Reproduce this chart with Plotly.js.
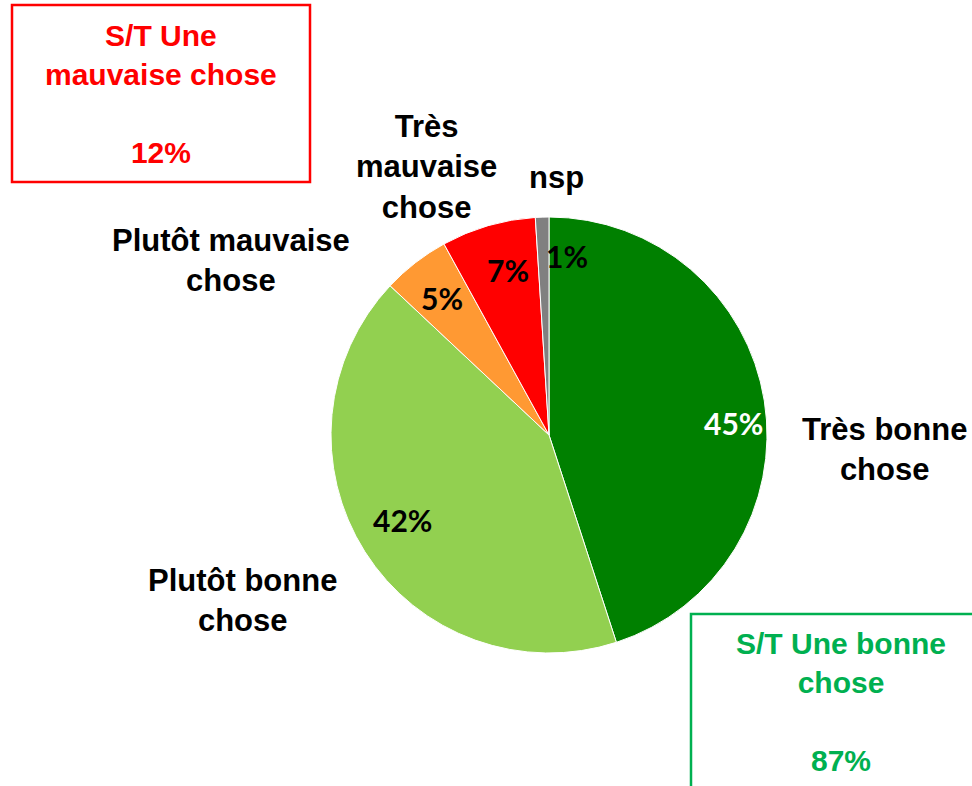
<!DOCTYPE html>
<html>
<head>
<meta charset="utf-8">
<script src="https://cdn.plot.ly/plotly-3.0.1.min.js"></script>
<style>
  body { margin: 0; background: #fff; }
  #plotArea { width: 972px; height: 786px; }
</style>
</head>
<body>
<div id="plotArea"></div>
<script>
// data
var categories = ["Très bonne chose", "Plutôt bonne chose", "Plutôt mauvaise chose", "Très mauvaise chose", "nsp"];
var labelTexts = ["Très bonne<br>chose", "Plutôt bonne<br>chose", "Plutôt mauvaise<br>chose", "Très<br>mauvaise<br>chose", "nsp"];
var values = [45, 42, 5, 7, 1];
var sliceColors = ["#008000", "#92D050", "#FF9933", "#FF0000", "#808080"];
var pctColors = ["#FFFFFF", "#000000", "#000000", "#000000", "#000000"];
var badTotal = 12;
var goodTotal = 87;

var W = 972, H = 786;
function px(x) { return x / W; }
function py(y) { return 1 - y / H; }

// where the texts sit (pixels)
var labelPos = [[884, 449], [242, 600], [231, 261], [426, 167], [556, 178]];
var pctPos = [[733, 423], [402, 520], [442, 298], [508, 270], [567, 256]];

var R = 218;
var trace = {
  type: "pie",
  labels: categories,
  values: values,
  sort: false,
  direction: "clockwise",
  rotation: 0,
  textinfo: "none",
  hoverinfo: "label+percent",
  marker: { colors: sliceColors, line: { color: "#ffffff", width: 1 } },
  domain: { x: [px(549 - R), px(549 + R)], y: [py(435 + R), py(435 - R)] },
  showlegend: false
};

var labelFont = { family: "Liberation Sans, Arial, sans-serif", size: 31, color: "#000000", weight: "bold" };

function note(x, y, text, font) {
  return {
    xref: "paper", yref: "paper",
    x: px(x), y: py(y),
    xanchor: "center", yanchor: "middle",
    text: text, showarrow: false, align: "center",
    font: font
  };
}

var annotations = [];
labelTexts.forEach(function (t, i) {
  annotations.push(note(labelPos[i][0], labelPos[i][1], t, labelFont));
});
values.forEach(function (v, i) {
  annotations.push(note(pctPos[i][0], pctPos[i][1], v + "%",
    { family: "Lato, sans-serif", size: 30, color: pctColors[i], weight: "bold" }));
});

// summary boxes
annotations.push(note(161, 94, "S/T Une<br>mauvaise chose<br> <br>" + badTotal + "%",
  { family: "Liberation Sans, Arial, sans-serif", size: 30, color: "#FF0000", weight: "bold" }));
annotations.push(note(841, 702, "S/T Une bonne<br>chose<br> <br>" + goodTotal + "%",
  { family: "Liberation Sans, Arial, sans-serif", size: 30, color: "#00B050", weight: "bold" }));

var layout = {
  width: W,
  height: H,
  margin: { l: 0, r: 0, t: 0, b: 0 },
  paper_bgcolor: "#ffffff",
  showlegend: false,
  annotations: annotations,
  shapes: [
    { type: "rect", xref: "paper", yref: "paper", x0: px(12), x1: px(310), y0: py(182), y1: py(5),
      line: { color: "#FF0000", width: 2.5 } },
    { type: "rect", xref: "paper", yref: "paper", x0: px(691), x1: px(1000), y0: py(820), y1: py(614),
      line: { color: "#00B050", width: 2.5 } }
  ]
};

Plotly.newPlot("plotArea", [trace], layout, { displayModeBar: false, staticPlot: true });
</script>
</body>
</html>
